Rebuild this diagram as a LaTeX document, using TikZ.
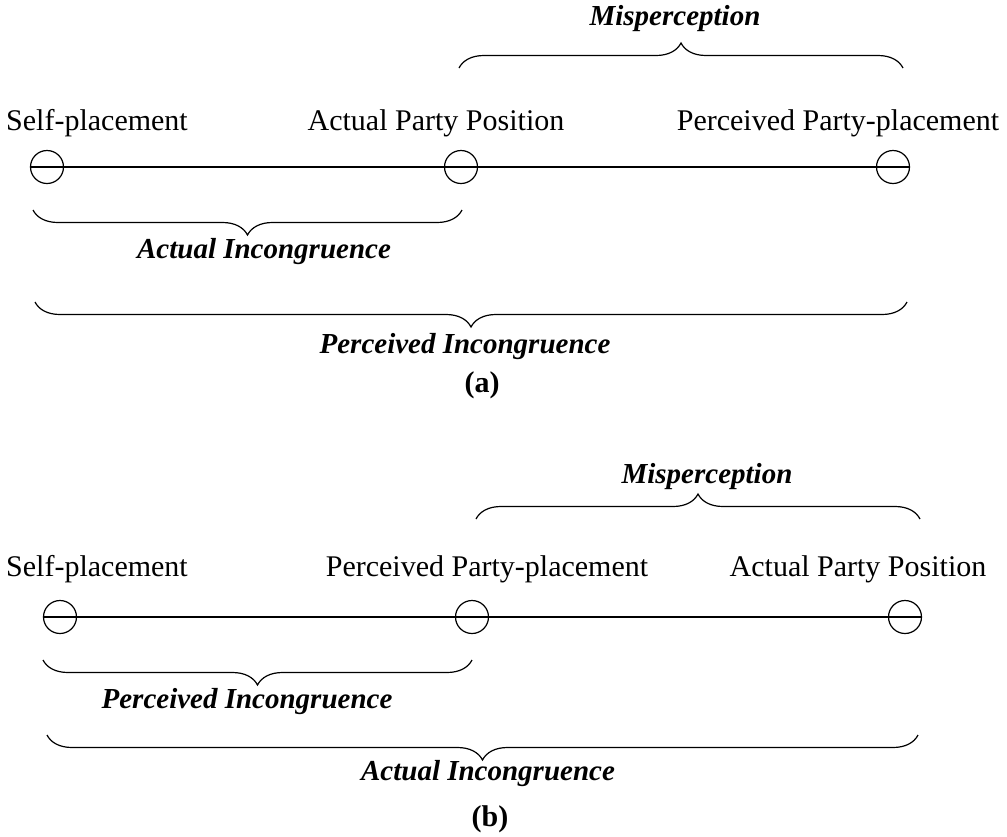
\documentclass[tikz,border=0pt]{standalone}
\usepackage{fontspec}
\setmainfont{Liberation Serif}
\usetikzlibrary{decorations.pathreplacing}
\tikzset{>=latex}
\tikzset{
  spot/.style={circle,draw,line width=1.2pt,minimum size=33pt,inner sep=0pt},
  axis line/.style={line width=1.2pt},
  place/.style={anchor=base,font=\fontsize{30}{36}\selectfont},
  gap/.style={anchor=base,font=\fontsize{29}{36}\selectfont\bfseries\itshape},
  caption/.style={anchor=base,font=\fontsize{30}{36}\selectfont\bfseries},
  curly/.style={decorate,line width=1.2pt,decoration={brace,amplitude=25pt}},
  curly down/.style={decorate,line width=1.2pt,decoration={brace,mirror,amplitude=25pt}}
}

\begin{document}
\begin{tikzpicture}[x=1pt,y=-1pt]
  \useasboundingbox (0,0) rectangle (1007,836);

  % (a)
  \node[spot] (selfA) at (47,167) {};
  \node[spot] (actA) at (461,167) {};
  \node[spot] (percA) at (893,167) {};
  \draw[axis line] (selfA.west) -- (percA.east);
  \node[place] (selfAtxt) at (97,130) {Self-placement};
  \node[place] (actAtxt) at (436,130) {Actual Party Position};
  \node[place] (percAtxt) at (838,130) {Perceived Party-placement};

  \coordinate (misA1) at (459,68);  \coordinate (misA2) at (903,68);
  \coordinate (actA1) at (33,210);  \coordinate (actA2) at (462,210);
  \coordinate (percA1) at (35,302); \coordinate (percA2) at (907,302);
  \draw[curly] (misA1) -- (misA2);
  \draw[curly down] (actA1) -- (actA2);
  \draw[curly down] (percA1) -- (percA2);
  \node[gap] (misAtxt) at (675,25) {Misperception};
  \node[gap] (actAgap) at (264,258) {Actual Incongruence};
  \node[gap] (percAgap) at (465,353) {Perceived Incongruence};
  \node[caption] (capA) at (482,392) {(a)};

  % (b)
  \node[spot] (selfB) at (60,617) {};
  \node[spot] (percB) at (472,617) {};
  \node[spot] (actB) at (905,617) {};
  \draw[axis line] (selfB.west) -- (actB.east);
  \node[place] (selfBtxt) at (97,576) {Self-placement};
  \node[place] (percBtxt) at (487,576) {Perceived Party-placement};
  \node[place] (actBtxt) at (858,576) {Actual Party Position};

  \coordinate (misB1) at (476,519); \coordinate (misB2) at (920,519);
  \coordinate (percB1) at (43,660); \coordinate (percB2) at (472,660);
  \coordinate (actB1) at (47,735);  \coordinate (actB2) at (918,735);
  \draw[curly] (misB1) -- (misB2);
  \draw[curly down] (percB1) -- (percB2);
  \draw[curly down] (actB1) -- (actB2);
  \node[gap] (misBtxt) at (707,483) {Misperception};
  \node[gap] (percBgap) at (247,708) {Perceived Incongruence};
  \node[gap] (actBgap) at (488,780) {Actual Incongruence};
  \node[caption] (capB) at (490,826) {(b)};
\end{tikzpicture}
\end{document}
